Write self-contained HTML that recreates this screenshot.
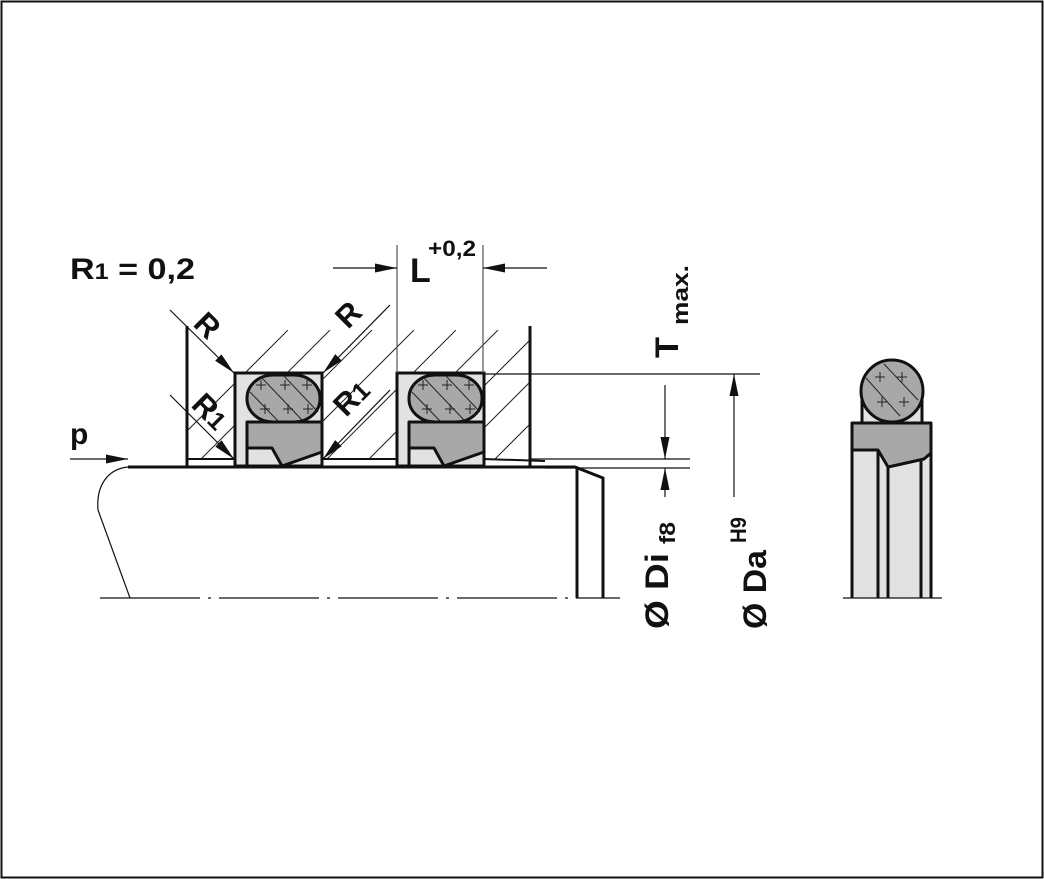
<!DOCTYPE html>
<html><head><style>
html,body{margin:0;padding:0;background:#fff}
svg{display:block}
text{font-family:"Liberation Sans",Arial,sans-serif;font-weight:bold;fill:#111}
</style></head><body>
<svg width="1044" height="879" viewBox="0 0 1044 879" xmlns="http://www.w3.org/2000/svg">
<defs>
<marker id="ar" viewBox="0 0 22 9" refX="22" refY="4.5" markerWidth="22" markerHeight="9" markerUnits="userSpaceOnUse" orient="auto"><path d="M0,0 L22,4.5 L0,9 Z" fill="#111"/></marker>
<clipPath id="hc"><path d="M187,330 L530,330 L530,459 L483,459 L483,373 L397,373 L397,459 L322,459 L322,373 L235,373 L235,459 L187,459 Z"/></clipPath>
</defs>
<rect x="1.5" y="1.5" width="1041" height="876" fill="none" stroke="#111" stroke-width="2"/>

<g clip-path="url(#hc)" stroke="#222" stroke-width="1">
<line x1="100" y1="560" x2="330" y2="330"/><line x1="142" y1="560" x2="372" y2="330"/>
<line x1="184" y1="560" x2="414" y2="330"/><line x1="226" y1="560" x2="456" y2="330"/>
<line x1="268" y1="560" x2="498" y2="330"/><line x1="310" y1="560" x2="540" y2="330"/>
<line x1="352" y1="560" x2="582" y2="330"/><line x1="394" y1="560" x2="624" y2="330"/>
<line x1="436" y1="560" x2="666" y2="330"/><line x1="478" y1="560" x2="708" y2="330"/>
<line x1="520" y1="560" x2="750" y2="330"/><line x1="58" y1="560" x2="288" y2="330"/>
</g>

<g id="g1">
<rect x="235" y="373" width="87" height="93" fill="#e2e2e2" stroke="#111" stroke-width="3"/>
<rect x="247" y="375" width="73" height="47" rx="26" ry="23" fill="#a8a8a8" stroke="#111" stroke-width="3"/>
<g stroke="#222" stroke-width="1"><line x1="262" y1="378" x2="302" y2="420"/><line x1="284" y1="376" x2="318" y2="412"/><line x1="250" y1="392" x2="278" y2="421"/>
<path d="M256,385h10M261,380v10M280,385h10M285,380v10M302,385h10M307,380v10M260,409h10M265,404v10M283,409h10M288,404v10M303,409h10M308,404v10"/></g>
<path d="M247,422 L322,422 L322,452 L282,466 L272,448 L247,448 Z" fill="#a8a8a8" stroke="#111" stroke-width="3" stroke-linejoin="round"/>
<line x1="247" y1="422" x2="247" y2="466" stroke="#111" stroke-width="3"/>
</g>
<use href="#g1" x="162"/>

<g stroke="#111" stroke-width="3" fill="none">
<line x1="187" y1="326" x2="187" y2="467"/>
<line x1="530" y1="326" x2="530" y2="467"/>
<line x1="187" y1="459" x2="235" y2="459" stroke-width="2"/>
<line x1="322" y1="459" x2="397" y2="459" stroke-width="2"/>
<line x1="483" y1="459" x2="545" y2="461" stroke-width="2"/>
<path d="M128,467 L575,467 L603,478 L603,598 M577,467 L577,598" />
</g>
<path d="M128,467 C108,469 96,485 98,510 L130,598" fill="none" stroke="#111" stroke-width="1.2"/>
<line x1="100" y1="598" x2="620" y2="598" stroke="#111" stroke-width="1.2" stroke-dasharray="100,8,3,8"/>

<line x1="70" y1="459" x2="128" y2="459" stroke="#111" stroke-width="1.2" marker-end="url(#ar)"/>
<text x="70" y="444" font-size="30">p</text>
<text x="70" y="279" font-size="30" textLength="125" lengthAdjust="spacingAndGlyphs">R<tspan font-size="22">1</tspan> = 0,2</text>

<g stroke="#111" stroke-width="1.2">
<line x1="170" y1="310" x2="234" y2="373" marker-end="url(#ar)"/>
<line x1="170" y1="395" x2="234" y2="459" marker-end="url(#ar)"/>
<line x1="390" y1="305" x2="323" y2="373" marker-end="url(#ar)"/>
<line x1="390" y1="390" x2="323" y2="459" marker-end="url(#ar)"/>
</g>
<text font-size="31" transform="translate(192,325) rotate(45)">R</text>
<text font-size="31" transform="translate(190,406) rotate(45)">R<tspan font-size="25">1</tspan></text>
<text font-size="31" transform="translate(348,330) rotate(-45)">R</text>
<text font-size="31" transform="translate(346,418) rotate(-45)">R<tspan font-size="25">1</tspan></text>

<g stroke="#555" stroke-width="1.2">
<line x1="397" y1="245" x2="397" y2="373"/><line x1="483" y1="245" x2="483" y2="373"/>
</g>
<g stroke="#111" stroke-width="1.2">
<line x1="333" y1="268" x2="397" y2="268" marker-end="url(#ar)"/>
<line x1="547" y1="268" x2="483" y2="268" marker-end="url(#ar)"/>
</g>
<text x="410" y="282" font-size="34">L</text>
<text x="428" y="256" font-size="22" textLength="48" lengthAdjust="spacingAndGlyphs">+0,2</text>

<g stroke="#111" stroke-width="1.2">
<line x1="483" y1="374" x2="760" y2="374"/>
<line x1="530" y1="459" x2="690" y2="459"/>
<line x1="545" y1="468" x2="690" y2="468"/>
<line x1="665" y1="385" x2="665" y2="459" marker-end="url(#ar)"/>
<line x1="665" y1="497" x2="665" y2="468" marker-end="url(#ar)"/>
<line x1="734" y1="497" x2="734" y2="374" marker-end="url(#ar)"/>
</g>
<text font-size="32" transform="translate(678,358) rotate(-90)" textLength="21" lengthAdjust="spacingAndGlyphs">T</text>
<text font-size="22" transform="translate(688,325) rotate(-90)" textLength="60" lengthAdjust="spacingAndGlyphs">max.</text>
<text font-size="32" transform="translate(668,629) rotate(-90)" textLength="76" lengthAdjust="spacingAndGlyphs">Ø Di</text>
<text font-size="22" transform="translate(675,544) rotate(-90)" textLength="22" lengthAdjust="spacingAndGlyphs">f8</text>
<text font-size="32" transform="translate(766,629) rotate(-90)" textLength="79" lengthAdjust="spacingAndGlyphs">Ø Da</text>
<text font-size="22" transform="translate(746,543) rotate(-90)" textLength="26" lengthAdjust="spacingAndGlyphs">H9</text>

<rect x="862" y="391" width="60" height="33" fill="#e2e2e2" stroke="#111" stroke-width="3"/>
<circle cx="892" cy="391" r="31" fill="#a8a8a8" stroke="#111" stroke-width="3"/>
<g stroke="#222" stroke-width="1"><line x1="866" y1="378" x2="900" y2="416"/><line x1="884" y1="364" x2="918" y2="400"/>
<path d="M875,377h10M880,372v10M897,377h10M902,372v10M877,402h10M882,397v10M899,402h10M904,397v10"/></g>
<rect x="852" y="423" width="79" height="175" fill="#e2e2e2"/>
<path d="M852,423 L931,423 L931,453 L924,459 L888,467 L878,450 L852,450 Z" fill="#a8a8a8" stroke="#111" stroke-width="3" stroke-linejoin="round"/>
<g stroke="#111" stroke-width="3">
<line x1="852" y1="423" x2="852" y2="598"/><line x1="931" y1="423" x2="931" y2="598"/>
<line x1="878" y1="450" x2="878" y2="598"/><line x1="888" y1="467" x2="888" y2="598"/>
<line x1="921" y1="461" x2="921" y2="598"/>
</g>
<line x1="843" y1="598" x2="942" y2="598" stroke="#111" stroke-width="1.2"/>
</svg>
</body></html>
